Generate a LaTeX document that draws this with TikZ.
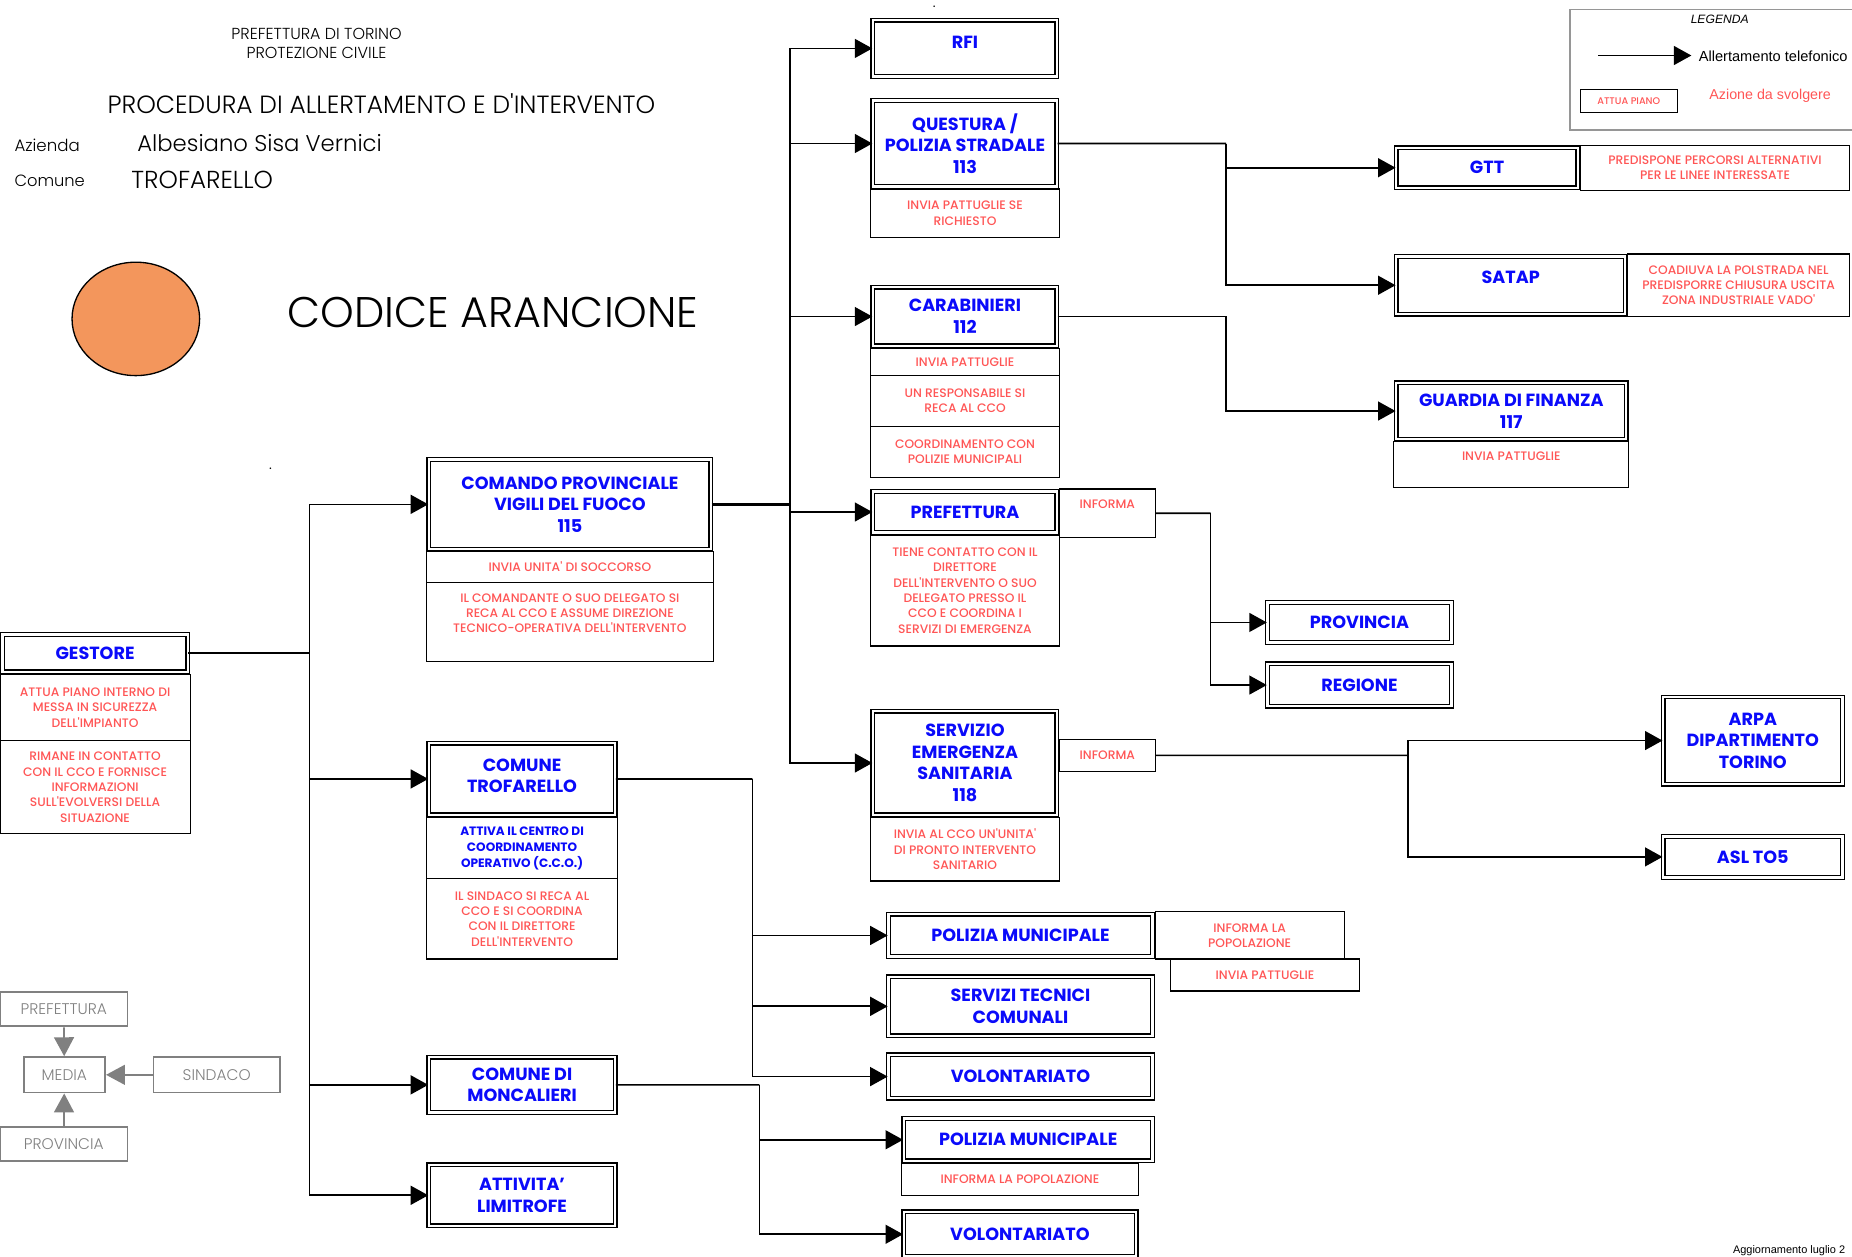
\documentclass[tikz,border=0pt]{standalone}
\usepackage{fontspec}
\setmainfont{Poppins}
\IfFontExistsTF{Poppins Light}{\newfontfamily\lightfam{Poppins Light}}{\newfontfamily\lightfam{Poppins}}
\IfFontExistsTF{Poppins Medium}{\newfontfamily\medfam{Poppins Medium}}{%
	\IfFontExistsTF{Poppins SemiBold}{\newfontfamily\medfam{Poppins SemiBold}}{\newfontfamily\medfam{Poppins}}}
\newfontfamily\legfam{Liberation Sans}
\usetikzlibrary{arrows.meta, fit, shapes.geometric}

\definecolor{blueT}{RGB}{10,10,250}
\definecolor{redT}{RGB}{255,85,85}
\definecolor{grayT}{RGB}{128,128,128}
\definecolor{legendgray}{RGB}{150,150,150}
\definecolor{orangeC}{RGB}{243,150,92}

\newcommand\boxfont{\fontsize{10.6}{13}\selectfont\bfseries}
\newcommand\actfont{\medfam\fontsize{7.4}{9.2}\selectfont}
\newcommand\smallblue{\fontsize{7.3}{9.6}\selectfont\bfseries}
\newcommand\mediafont{\lightfam\fontsize{9.3}{11}\selectfont}

\begin{document}
\begin{tikzpicture}[
	x=0.025cm, y=-0.025cm,
	mainbox/.style={draw, line width=0.8pt, double=white, double distance=1.4pt, inner sep=-1.5pt},
	actbox/.style={draw, line width=0.75pt, inner sep=0pt},
	mediabox/.style={draw=grayT, line width=1.1pt, inner sep=0pt},
	bluetext/.style={anchor=center, inner sep=0pt, align=center, text=blueT, font=\boxfont},
	redtext/.style={anchor=center, inner sep=0pt, align=center, text=redT, font=\actfont},
	graytext/.style={anchor=center, inner sep=0pt, text=grayT, font=\mediafont},
	boxtext/.style={label={[bluetext]center:{#1}}},
	acttext/.style={label={[redtext]center:{#1}}},
	mediatext/.style={label={[graytext]center:{#1}}},
	toplabel/.style={anchor=north, inner sep=0pt, align=center, text=blueT, font=\boxfont},
	topaction/.style={anchor=north, inner sep=0pt, align=center, text=redT, font=\actfont},
	heading/.style={inner sep=0pt},
	arrow/.style={-{Triangle[length=0.37cm, width=0.4cm]}, line width=1pt},
	link/.style={line width=1pt},
	grayarrow/.style={-{Triangle[length=0.4cm, width=0.42cm]}, draw=grayT, line width=1.1pt}
	]
	\useasboundingbox (0,0) rectangle (1568,1064);
	
	% Intestazione
	\node[heading, align=center, font=\lightfam\fontsize{9.6}{11.5}\selectfont] (office) at (268,36.5) {PREFETTURA DI TORINO\\PROTEZIONE CIVILE};
	\node[heading, font=\lightfam\fontsize{15}{18}\selectfont] (procedure) at (323,88) {PROCEDURA DI ALLERTAMENTO E D'INTERVENTO};
	\node[heading, anchor=west, font=\lightfam\fontsize{10}{12}\selectfont] (companylbl) at (12,123) {Azienda};
	\node[heading, anchor=west, font=\lightfam\fontsize{13.7}{16}\selectfont] (company) at (116,121) {Albesiano Sisa Vernici};
	\node[heading, anchor=west, font=\lightfam\fontsize{9.8}{12}\selectfont] (townlbl) at (12,153) {Comune};
	\node[heading, anchor=west, font=\lightfam\fontsize{14.8}{17}\selectfont] (town) at (111,152) {TROFARELLO};
	\node[ellipse, draw, line width=0.8pt, fill=orangeC, minimum width=2.7cm, minimum height=2.4cm] (codedot) at (115,270) {};
	\node[heading, anchor=west, font=\lightfam\fontsize{25.8}{30}\selectfont] (code) at (243,265) {CODICE ARANCIONE};
	\node[heading, font=\fontsize{8}{8}\selectfont] (dotA) at (791,6) {.};
	\node[heading, font=\fontsize{8}{8}\selectfont] (dotB) at (229,397) {.};
	
	% Legenda
	\node[draw=legendgray, line width=1pt, inner sep=0pt, fit={(1329,8) (1575,110)}] (legend) {};
	\node[heading, font=\legfam\itshape\fontsize{7.3}{9}\selectfont] (legendtitle) at (1456,16) {LEGENDA};
	\coordinate (legendA) at (1353,47);
	\coordinate (legendB) at (1432,47);
	\draw[arrow] (legendA) -- (legendB);
	\node[heading, anchor=west, font=\legfam\fontsize{8.8}{10}\selectfont] (legendcall) at (1438,48) {Allertamento telefonico};
	\node[actbox, fit={(1338,76) (1420,95)}, label={[redtext, font=\medfam\fontsize{5.8}{7}\selectfont]center:ATTUA PIANO}] (legendbox) {};
	\node[heading, anchor=west, text=redT, font=\legfam\fontsize{8.6}{10}\selectfont] (legendact) at (1447,81) {Azione da svolgere};
	
	% Gestore
	\node[mainbox, fit={(0,535) (161,571)}, boxtext={GESTORE}] (gestore) {};
	\node[actbox, fit={(0,571) (161,627)}, acttext={ATTUA PIANO INTERNO DI\\MESSA IN SICUREZZA\\DELL'IMPIANTO}] (gestoreA) {};
	\node[actbox, fit={(0,627) (161,706)}, acttext={RIMANE IN CONTATTO\\CON IL CCO E FORNISCE\\INFORMAZIONI\\SULL'EVOLVERSI DELLA\\SITUAZIONE}] (gestoreB) {};
	
	% Secondo livello
	\node[mainbox, fit={(361,387) (604,467)}, boxtext={COMANDO PROVINCIALE\\VIGILI DEL FUOCO\\115}] (cpvf) {};
	\node[actbox, fit={(361,467) (604,493)}, acttext={INVIA UNITA' DI SOCCORSO}] (cpvfA) {};
	\node[actbox, fit={(361,493) (604,560)}, label={[topaction, yshift=-7pt]north:{IL COMANDANTE O SUO DELEGATO SI\\RECA AL CCO E ASSUME DIREZIONE\\TECNICO-OPERATIVA DELL'INTERVENTO}}] (cpvfB) {};
	
	\node[mainbox, fit={(361,627) (523,692)}, label={[bluetext, yshift=2pt]center:{COMUNE\\TROFARELLO}}] (trofarello) {};
	\node[actbox, fit={(361,692) (523,744)}, label={[bluetext, font=\smallblue]center:{ATTIVA IL CENTRO DI\\COORDINAMENTO\\OPERATIVO (C.C.O.)}}] (trofarelloA) {};
	\node[actbox, fit={(361,744) (523,812)}, acttext={IL SINDACO SI RECA AL\\CCO E SI COORDINA\\CON IL DIRETTORE\\DELL'INTERVENTO}] (trofarelloB) {};
	
	\node[mainbox, fit={(361,893) (523,944)}, boxtext={COMUNE DI\\MONCALIERI}] (moncalieri) {};
	\node[mainbox, fit={(361,984) (523,1040)}, boxtext={ATTIVITA'\\LIMITROFE}] (attivita) {};
	
	% Forze dell'ordine e enti
	\node[mainbox, fit={(737,15) (897,67)}, label={[toplabel, yshift=-10pt]north:RFI}] (rfi) {};
	\node[mainbox, fit={(737,83) (897,160)}, boxtext={QUESTURA /\\POLIZIA STRADALE\\113}] (questura) {};
	\node[actbox, fit={(737,160) (897,201)}, acttext={INVIA PATTUGLIE SE\\RICHIESTO}] (questuraA) {};
	\node[mainbox, fit={(737,241) (897,295)}, boxtext={CARABINIERI\\112}] (carabinieri) {};
	\node[actbox, fit={(737,295) (897,318)}, acttext={INVIA PATTUGLIE}] (carabinieriA) {};
	\node[actbox, fit={(737,318) (897,361)}, acttext={UN RESPONSABILE SI\\RECA AL CCO}] (carabinieriB) {};
	\node[actbox, fit={(737,361) (897,404)}, acttext={COORDINAMENTO CON\\POLIZIE MUNICIPALI}] (carabinieriC) {};
	\node[mainbox, fit={(737,414) (897,453)}, boxtext={PREFETTURA}] (prefettura) {};
	\node[actbox, fit={(897,414) (978,455)}, label={[topaction, yshift=-6.5pt]north:INFORMA}] (prefetturaInf) {};
	\node[actbox, fit={(737,453) (897,547)}, acttext={TIENE CONTATTO CON IL\\DIRETTORE\\DELL'INTERVENTO O SUO\\DELEGATO PRESSO IL\\CCO E COORDINA I\\SERVIZI DI EMERGENZA}] (prefetturaA) {};
	\node[mainbox, fit={(737,600) (897,692)}, boxtext={SERVIZIO\\EMERGENZA\\SANITARIA\\118}] (sanitaria) {};
	\node[actbox, fit={(897,626) (978,653)}, acttext={INFORMA}] (sanitariaInf) {};
	\node[actbox, fit={(737,692) (897,746)}, acttext={INVIA AL CCO UN'UNITA'\\DI PRONTO INTERVENTO\\SANITARIO}] (sanitariaA) {};
	
	% Terzo livello
	\node[mainbox, fit={(1180,123) (1338,161)}, boxtext={GTT}] (gtt) {};
	\node[actbox, fit={(1338,123) (1566,161)}, acttext={PREDISPONE PERCORSI ALTERNATIVI\\PER LE LINEE INTERESSATE}] (gttA) {};
	\node[mainbox, fit={(1180,215) (1378,268)}, label={[toplabel, yshift=-9pt]north:SATAP}] (satap) {};
	\node[actbox, fit={(1378,215) (1566,268)}, acttext={COADIUVA LA POLSTRADA NEL\\PREDISPORRE CHIUSURA USCITA\\ZONA INDUSTRIALE VADO'}] (satapA) {};
	\node[mainbox, fit={(1180,322) (1379,374)}, boxtext={GUARDIA DI FINANZA\\117}] (finanza) {};
	\node[actbox, fit={(1180,374) (1379,413)}, label={[topaction, yshift=-6pt]north:INVIA PATTUGLIE}] (finanzaA) {};
	\node[mainbox, fit={(1071,508) (1231,546)}, boxtext={PROVINCIA}] (provincia) {};
	\node[mainbox, fit={(1071,560) (1231,600)}, boxtext={REGIONE}] (regione) {};
	\node[mainbox, fit={(1406,588) (1562,666)}, boxtext={ARPA\\DIPARTIMENTO\\TORINO}] (arpa) {};
	\node[mainbox, fit={(1406,706) (1562,745)}, boxtext={ASL TO5}] (asl) {};
	
	% Comuni
	\node[mainbox, fit={(750,772) (978,812)}, boxtext={POLIZIA MUNICIPALE}] (pmTrof) {};
	\node[actbox, fit={(978,772) (1138,812)}, acttext={INFORMA LA\\POPOLAZIONE}] (pmTrofA) {};
	\node[actbox, fit={(991,812) (1151,839)}, acttext={INVIA PATTUGLIE}] (pmTrofB) {};
	\node[mainbox, fit={(750,825) (978,879)}, boxtext={SERVIZI TECNICI\\COMUNALI}] (tecnici) {};
	\node[mainbox, fit={(750,891) (978,932)}, boxtext={VOLONTARIATO}] (volTrof) {};
	\node[mainbox, fit={(763,945) (978,985)}, boxtext={POLIZIA MUNICIPALE}] (pmMonc) {};
	\node[actbox, fit={(763,985) (964,1012)}, acttext={INFORMA LA POPOLAZIONE}] (pmMoncA) {};
	\node[mainbox, fit={(763,1024) (964,1066)}, boxtext={VOLONTARIATO}] (volMonc) {};
	
	% Media
	\node[mediabox, fit={(0,840) (108,869)}, mediatext={PREFETTURA}] (mPref) {};
	\node[mediabox, fit={(20,895) (89,925)}, mediatext={MEDIA}] (media) {};
	\node[mediabox, fit={(130,895) (237,925)}, mediatext={SINDACO}] (sindaco) {};
	\node[mediabox, fit={(0,954) (108,983)}, mediatext={PROVINCIA}] (mProv) {};
	\draw[grayarrow] (mPref) -- (media);
	\draw[grayarrow] (mProv) -- (media);
	\draw[grayarrow] (sindaco) -- (media);
	
	% Collegamenti
	\coordinate (gestoreJ) at (262,553);
	\draw[link] (gestore.east) -- (gestoreJ);
	\draw[arrow] (gestoreJ) |- (cpvf.west);
	\draw[arrow] (gestoreJ) |- (trofarello.west);
	\draw[arrow] (gestoreJ) |- (moncalieri.west);
	\draw[arrow] (gestoreJ) |- (attivita.west);
	
	\coordinate (cpvfJ) at (669,427);
	\draw[link, line width=1.4pt] (cpvf.east) -- (cpvfJ);
	\draw[arrow] (cpvfJ) |- (rfi.west);
	\draw[arrow] (cpvfJ) |- (questura.west);
	\draw[arrow] (cpvfJ) |- (carabinieri.west);
	\draw[arrow] (cpvfJ) |- (prefettura.west);
	\draw[arrow] (cpvfJ) |- (sanitaria.west);
	
	\coordinate (questuraJ) at (1038,121.5);
	\draw[link] (questura.east) -- (questuraJ);
	\draw[arrow] (questuraJ) |- (gtt.west);
	\draw[arrow] (questuraJ) |- (satap.west);
	
	\coordinate (carabinieriJ) at (1038,268);
	\draw[arrow] (carabinieri.east) -- (carabinieriJ) |- (finanza.west);
	
	\coordinate (prefetturaJ) at (1025,434.5);
	\draw[link] (prefetturaInf.east) -- (prefetturaJ);
	\draw[arrow] (prefetturaJ) |- (provincia.west);
	\draw[arrow] (prefetturaJ) |- (regione.west);
	
	\coordinate (sanitariaJ) at (1192,639.5);
	\draw[link] (sanitariaInf.east) -- (sanitariaJ);
	\draw[arrow] (sanitariaJ) |- (arpa.west);
	\draw[arrow] (sanitariaJ) |- (asl.west);
	
	\coordinate (trofarelloJ) at (637,659.5);
	\draw[link] (trofarello.east) -- (trofarelloJ);
	\draw[arrow] (trofarelloJ) |- (pmTrof.west);
	\draw[arrow] (trofarelloJ) |- (tecnici.west);
	\draw[arrow] (trofarelloJ) |- (volTrof.west);
	
	\coordinate (moncalieriJ) at (643,918.5);
	\draw[link] (moncalieri.east) -- (moncalieriJ);
	\draw[arrow] (moncalieriJ) |- (pmMonc.west);
	\draw[arrow] (moncalieriJ) |- (volMonc.west);
	
	\node[heading, anchor=west, font=\legfam\fontsize{6.6}{8}\selectfont] (update) at (1467,1059) {Aggiornamento luglio 2};
	
\end{tikzpicture}
\end{document}
